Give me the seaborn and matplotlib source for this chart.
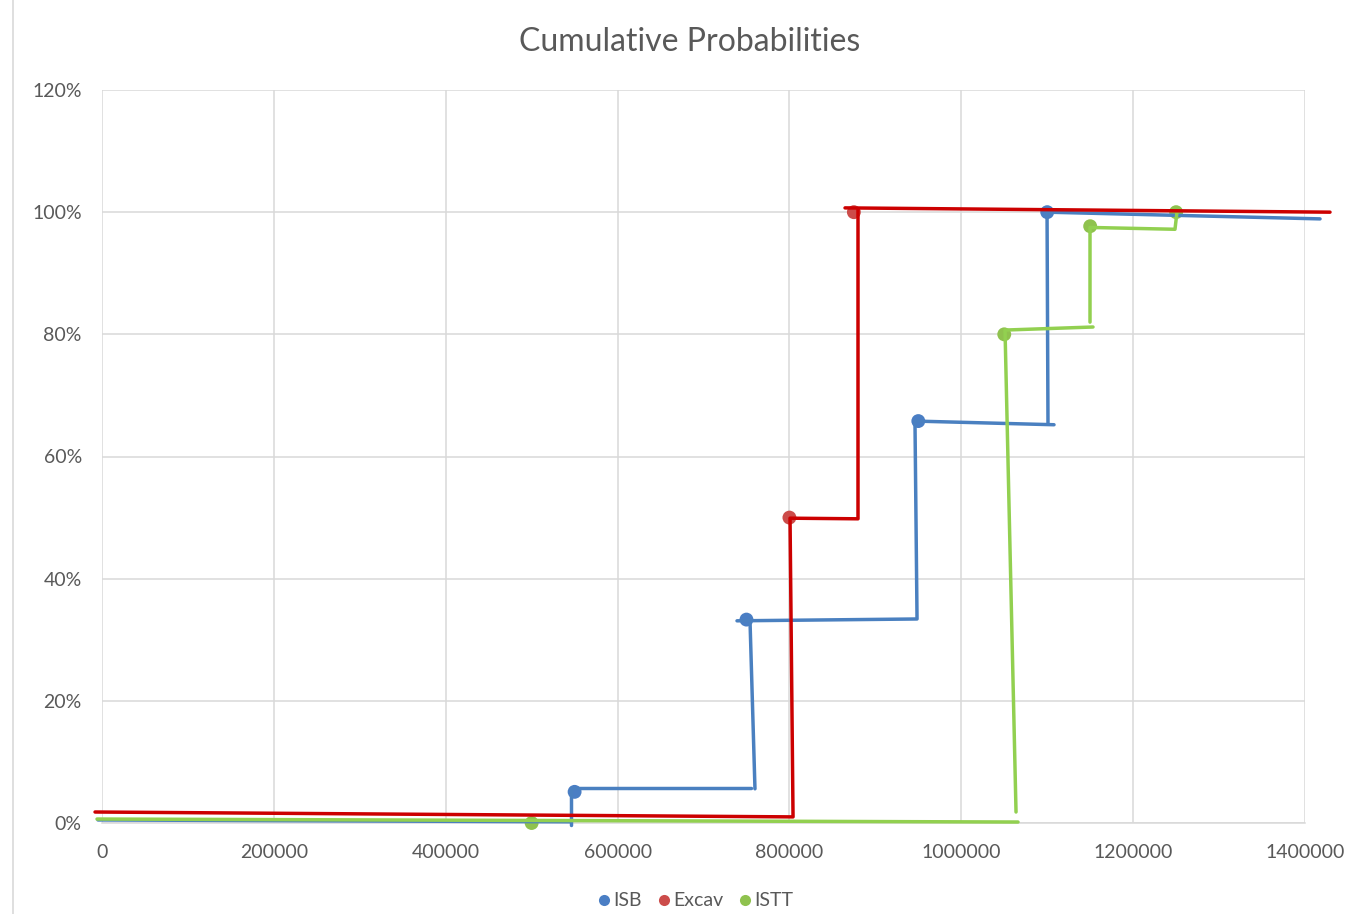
import numpy as np
import pandas as pd
import matplotlib
matplotlib.use("Agg")
import matplotlib.pyplot as plt
from matplotlib.lines import Line2D
from matplotlib.ticker import FuncFormatter
import seaborn as sns

# ---- data -------------------------------------------------------------
series = ["ISB", "Excav", "ISTT"]

isb_x = [550000, 750000, 950000, 1100000]
isb_y = [5.1, 33.3, 65.8, 100.0]

excav_x = [800000, 875000]
excav_y = [50.0, 100.0]

istt_x = [500000, 1050000, 1150000, 1250000]
istt_y = [0.0, 80.0, 97.7, 100.0]

# step connectors, one list of (x, y) vertex runs per series
isb_steps = [
    ([-4700, 545800], [0.5, 0.2]),
    ([545800, 545800, 755300], [-0.3, 5.7, 5.7]),
    ([759900, 754100], [5.6, 33.2]),
    ([739000, 948500, 946100, 1107900], [33.1, 33.4, 65.8, 65.2]),
    ([1100900, 1099800, 1417500], [65.5, 100.0, 98.9]),
]
excav_steps = [
    ([-8100, 804200, 800700, 879800, 879800], [1.8, 1.0, 49.9, 49.8, 100.4]),
    ([864700, 1429100], [100.7, 100.0]),
]
istt_steps = [
    ([-5800, 1066000], [0.65, 0.16]),
    ([1063700, 1050900, 1153300], [1.8, 80.7, 81.2]),
    ([1149800, 1149800, 1248700, 1251000], [82.0, 97.5, 97.2, 100.0]),
]

x_ticks = [0, 200000, 400000, 600000, 800000, 1000000, 1200000, 1400000]
y_ticks = [0, 20, 40, 60, 80, 100, 120]

marker_colors = {"ISB": "#4a7ec4", "Excav": "#cc4c4a", "ISTT": "#8fc24e"}
line_colors = {"ISB": "#4a80c0", "Excav": "#cc0000", "ISTT": "#92d050"}

# ---- tidy frames ---------------------------------------------------------
points = pd.DataFrame({
    "x": isb_x + excav_x + istt_x,
    "y": isb_y + excav_y + istt_y,
    "series": ["ISB"] * len(isb_x) + ["Excav"] * len(excav_x) + ["ISTT"] * len(istt_x),
})

rows = []
seg_id = 0
for name, steps in [("ISB", isb_steps), ("ISTT", istt_steps), ("Excav", excav_steps)]:
    for xs, ys in steps:
        for i, (xv, yv) in enumerate(zip(xs, ys)):
            rows.append({"x": xv, "y": yv, "series": name, "seg": seg_id, "order": i})
        seg_id += 1
paths = pd.DataFrame(rows)

# ---- figure ----------------------------------------------------------------
sns.set_theme(style="white")
plt.rcParams["font.family"] = ["Lato", "DejaVu Sans"]

text_color = "#595959"
grid_color = "#d9d9d9"

fig = plt.figure(figsize=(13.47, 9.14), dpi=100)
ax = fig.add_axes([102 / 1347, 1 - 823 / 914, (1305 - 102) / 1347, (823 - 90) / 914])

sns.scatterplot(data=points, x="x", y="y", hue="series", hue_order=series,
                palette=marker_colors, s=100, edgecolor="none", ax=ax,
                legend=False, zorder=3, clip_on=False)

for name in ["ISB", "ISTT", "Excav"]:
    sub = paths[paths["series"] == name]
    sns.lineplot(data=sub, x="x", y="y", units="seg", estimator=None, sort=False,
                 color=line_colors[name], linewidth=2.5, ax=ax, legend=False,
                 zorder=4, clip_on=False)

ax.set_xlim(0, 1400000)
ax.set_ylim(0, 120)
ax.set_xticks(x_ticks)
ax.set_yticks(y_ticks)
ax.xaxis.set_major_formatter(FuncFormatter(lambda v, p: f"{int(v)}"))
ax.yaxis.set_major_formatter(FuncFormatter(lambda v, p: f"{int(v)}%"))
ax.tick_params(axis="both", length=0, labelsize=14, colors=text_color)
ax.tick_params(axis="x", pad=15)
ax.tick_params(axis="y", pad=14.5)
ax.grid(True, color=grid_color, linewidth=1.1)
ax.set_axisbelow(True)
for side in ["top", "right", "left"]:
    ax.spines[side].set_visible(False)
ax.spines["bottom"].set_color(grid_color)
ax.spines["bottom"].set_linewidth(1.1)
ax.set_xlabel("")
ax.set_ylabel("")

fig.text(690 / 1347, 1 - 42 / 914, "Cumulative Probabilities", ha="center", va="center",
         fontsize=23, color=text_color)

handles = [Line2D([], [], linestyle="none", marker="o", markersize=8,
                  markerfacecolor=marker_colors[s], markeredgecolor="none")
           for s in series]
fig.legend(handles, series, loc="center", bbox_to_anchor=(694 / 1347, 1 - 901 / 914),
           ncol=3, frameon=False, fontsize=14, labelcolor=text_color,
           handletextpad=0.0, columnspacing=0.6, handlelength=1.0)

# left edge of the chart frame
fig.add_artist(Line2D([13 / 1347, 13 / 1347], [0, 1], color=grid_color, linewidth=1.2))

fig.savefig("out.png", dpi=100, facecolor="white")
